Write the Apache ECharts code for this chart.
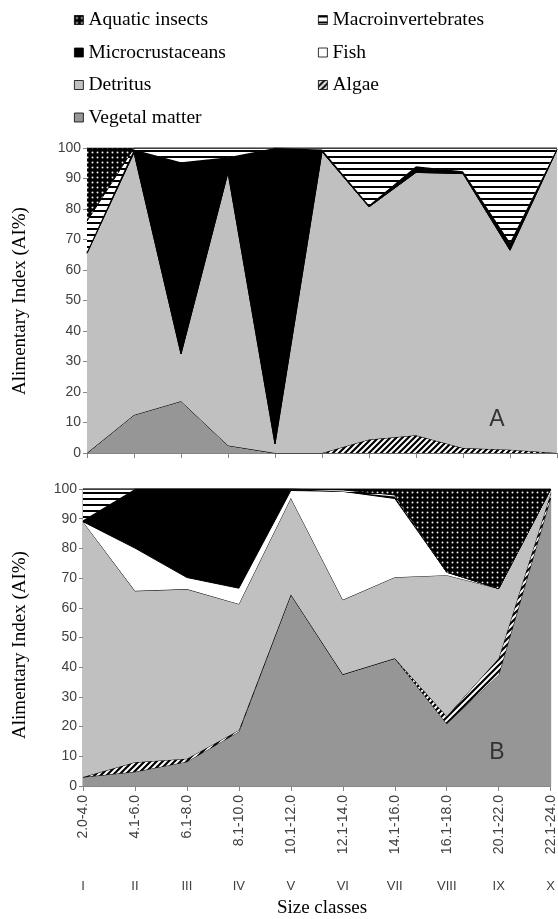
<!DOCTYPE html>
<html>
<head>
<meta charset="utf-8">
<script src="https://cdn.jsdelivr.net/npm/echarts@6/dist/echarts.min.js"></script>
<style>
  html, body { margin: 0; padding: 0; background: #fff; }
  #chart { width: 558px; height: 919px; }
</style>
</head>
<body>
<div id="chart"></div>
<script>
// Size classes (panel A has one more class than panel B)
const sizeClassesA = ['2.0-4.0', '4.1-6.0', '6.1-8.0', '8.1-10.0', '10.1-12.0', '12.1-14.0',
  '14.1-16.0', '16.1-18.0', '18.1-20.0', '20.1-22.0', '22.1-24.0'];
const sizeClassesB = ['2.0-4.0', '4.1-6.0', '6.1-8.0', '8.1-10.0', '10.1-12.0', '12.1-14.0',
  '14.1-16.0', '16.1-18.0', '20.1-22.0', '22.1-24.0'];
const romanB = ['I', 'II', 'III', 'IV', 'V', 'VI', 'VII', 'VIII', 'IX', 'X'];
const yTicks = [0, 100, 10];

// Food categories, stacked from the bottom up
const foodNames = ['Vegetal matter', 'Algae', 'Detritus', 'Fish', 'Microcrustaceans',
  'Macroinvertebrates', 'Aquatic insects'];

// Panel A — Alimentary Index (%)
const vegetalA  = [0, 12.5, 17, 2.5, 0, 0, 0, 0, 0, 0, 0];
const algaeA    = [0, 0, 0, 0, 0, 0, 4.4, 5.8, 1.6, 1.1, 0];
const detritusA = [65.5, 86, 15.5, 89.5, 3, 98.8, 76.3, 86.2, 90, 65.4, 99.5];
const fishA     = [0, 0, 0, 0, 0, 0, 0, 0, 0, 0, 0];
const microA    = [0.5, 1, 62.8, 5, 97, 0.7, 0.5, 2, 0.8, 2.5, 0];
const macroA    = [10, 0.5, 4.7, 3, 0, 0.5, 18.8, 6, 7.6, 31, 0.5];
const aquaticA  = [24, 0, 0, 0, 0, 0, 0, 0, 0, 0, 0];

// Panel B — Alimentary Index (%)
const vegetalB  = [3, 4.8, 8.2, 18.3, 64.5, 37.6, 43, 21, 37.5, 97];
const algaeB    = [0, 3.2, 1, 0.5, 0, 0, 0, 2.5, 5.5, 1.5];
const detritusB = [86, 57.7, 57.1, 42.5, 32.5, 25.1, 27.3, 47.5, 23.5, 1.5];
const fishB     = [0, 14.4, 3.9, 5.3, 2.5, 36.5, 26.5, 1, 0, 0];
const microB    = [0.5, 19.9, 29.8, 33.4, 0.5, 0, 0.7, 0, 0, 0];
const macroB    = [10.5, 0, 0, 0, 0, 0.5, 0.5, 0, 0, 0];
const aquaticB  = [0, 0, 0, 0, 0, 0.3, 2, 28, 33.5, 0];

// ---- fill patterns ----
function pattern(w, h, draw) {
  const c = document.createElement('canvas');
  c.width = w; c.height = h;
  const ctx = c.getContext('2d');
  draw(ctx, w, h);
  return { image: c, repeat: 'repeat' };
}
const dotsFill = pattern(5, 5, (ctx, w, h) => {
  ctx.fillStyle = '#000'; ctx.fillRect(0, 0, w, h);
  ctx.fillStyle = '#f0f0f0';
  ctx.beginPath(); ctx.arc(2.5, 2.5, 1.0, 0, Math.PI * 2); ctx.fill();
});
const hStripeFill = pattern(6, 6, (ctx, w, h) => {
  ctx.fillStyle = '#fff'; ctx.fillRect(0, 0, w, h);
  ctx.fillStyle = '#000'; ctx.fillRect(0, 0, w, 2);
});
const diagFill = pattern(6, 6, (ctx, w, h) => {
  ctx.fillStyle = '#fff'; ctx.fillRect(0, 0, w, h);
  ctx.strokeStyle = '#000'; ctx.lineWidth = 2.2;
  ctx.beginPath();
  ctx.moveTo(-1, 7); ctx.lineTo(7, -1);
  ctx.moveTo(-4, 4); ctx.lineTo(4, -4);
  ctx.moveTo(2, 10); ctx.lineTo(10, 2);
  ctx.stroke();
});
const fills = ['#969696', diagFill, '#c0c0c0', '#ffffff', '#000000', hStripeFill, dotsFill];

const panelA = [vegetalA, algaeA, detritusA, fishA, microA, macroA, aquaticA];
const panelB = [vegetalB, algaeB, detritusB, fishB, microB, macroB, aquaticB];

function stackSeries(values, axisIdx, stackId) {
  return foodNames.map((name, i) => ({
    name: name,
    type: 'line',
    stack: stackId,
    xAxisIndex: axisIdx,
    yAxisIndex: axisIdx,
    data: values[i],
    symbol: 'none',
    silent: true,
    lineStyle: { color: '#000', width: 1 },
    itemStyle: { color: fills[i], borderColor: '#000', borderWidth: 0.8 },
    areaStyle: { color: fills[i], opacity: 1 },
    z: 2 + i
  }));
}

const tickFont = { fontFamily: 'Liberation Sans, Arial, sans-serif', color: '#404040' };
const serif = 'Liberation Serif, Times New Roman, serif';

function yAxisCfg(grid) {
  return {
    type: 'value', gridIndex: grid,
    min: yTicks[0], max: yTicks[1], interval: yTicks[2],
    axisLine: { show: true, lineStyle: { color: '#868686', width: 1 } },
    axisTick: { show: true, length: 4, lineStyle: { color: '#868686' } },
    splitLine: { show: false },
    axisLabel: Object.assign({ fontSize: 14, margin: 6 }, tickFont)
  };
}

const legendText = { fontFamily: serif, fontSize: 19.5, color: '#000' };

function legendColumn(left, names) {
  return {
    orient: 'vertical', left: left, top: 5, itemGap: 12.5,
    icon: 'rect', itemWidth: 9, itemHeight: 9,
    selectedMode: false,
    itemStyle: { borderColor: '#000', borderWidth: 0.8 },
    textStyle: legendText,
    data: names
  };
}

const option = {
  animation: false,
  backgroundColor: '#fff',
  legend: [
    legendColumn(69, ['Aquatic insects', 'Microcrustaceans', 'Detritus', 'Vegetal matter']),
    legendColumn(313, ['Macroinvertebrates', 'Fish', 'Algae'])
  ],
  grid: [
    { left: 87, right: 1, top: 148, height: 305 },
    { left: 83, right: 3, top: 489, height: 297,
      show: true, borderColor: '#868686', borderWidth: 1, backgroundColor: 'transparent' }
  ],
  xAxis: [
    {
      type: 'category', gridIndex: 0, data: sizeClassesA, boundaryGap: false,
      axisLine: { lineStyle: { color: '#868686' } },
      axisTick: { show: true, interval: 0, length: 5, lineStyle: { color: '#868686' } },
      axisLabel: { show: false }
    },
    {
      type: 'category', gridIndex: 1, data: sizeClassesB, boundaryGap: false,
      axisLine: { lineStyle: { color: '#868686' } },
      axisTick: { show: true, interval: 0, length: 5, lineStyle: { color: '#868686' } },
      axisLabel: Object.assign({ interval: 0, rotate: 90, fontSize: 14, margin: 9 }, tickFont)
    },
    {
      type: 'category', gridIndex: 1, data: romanB, boundaryGap: false,
      position: 'bottom', offset: 86,
      axisLine: { show: false }, axisTick: { show: false },
      axisLabel: Object.assign({ interval: 0, fontSize: 13, margin: 8 }, tickFont)
    }
  ],
  yAxis: [yAxisCfg(0), yAxisCfg(1)],
  graphic: [
    { type: 'text', x: 20, y: 301, rotation: Math.PI / 2,
      style: { text: 'Alimentary Index (AI%)', font: '19px ' + serif, fill: '#000', align: 'center', verticalAlign: 'middle' } },
    { type: 'text', x: 20, y: 645, rotation: Math.PI / 2,
      style: { text: 'Alimentary Index (AI%)', font: '19px ' + serif, fill: '#000', align: 'center', verticalAlign: 'middle' } },
    { type: 'text', x: 497, y: 420, z: 50,
      style: { text: 'A', font: '23px Liberation Sans, Arial, sans-serif', fill: '#333', align: 'center', verticalAlign: 'middle' } },
    { type: 'text', x: 497, y: 753, z: 50,
      style: { text: 'B', font: '23px Liberation Sans, Arial, sans-serif', fill: '#333', align: 'center', verticalAlign: 'middle' } },
    { type: 'text', x: 322, y: 908,
      style: { text: 'Size classes', font: '19px ' + serif, fill: '#000', align: 'center', verticalAlign: 'middle' } }
  ],
  series: stackSeries(panelA, 0, 'A').concat(stackSeries(panelB, 1, 'B'))
};

const chart = echarts.init(document.getElementById('chart'), null, { renderer: 'canvas' });
chart.setOption(option);
</script>
</body>
</html>
